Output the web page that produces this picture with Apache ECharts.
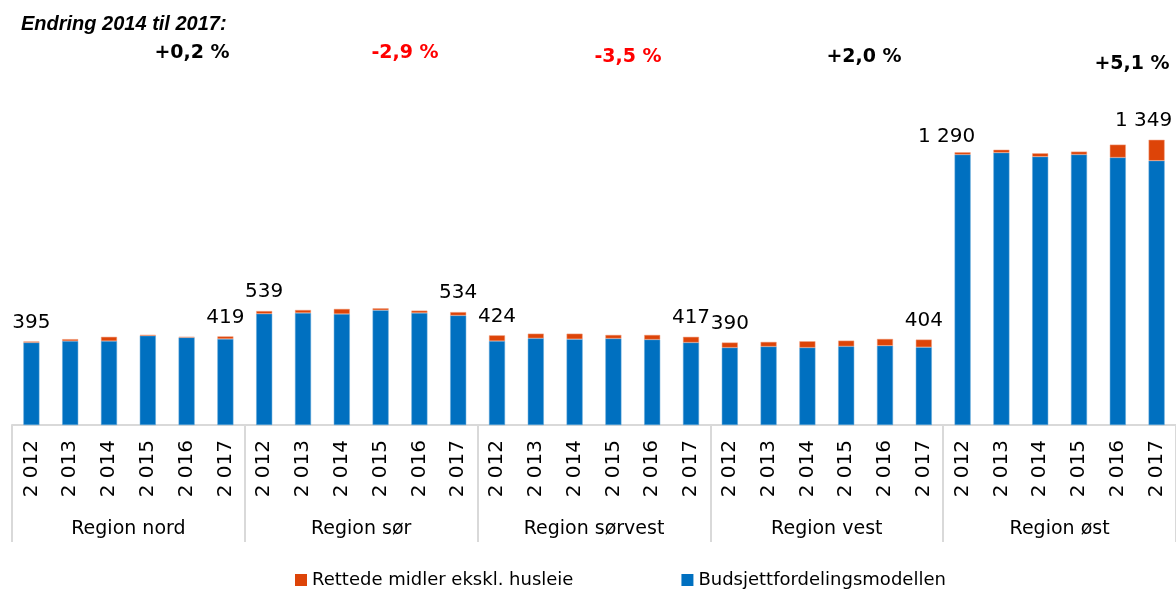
<!DOCTYPE html>
<html>
<head>
<meta charset="utf-8">
<script src="https://cdn.jsdelivr.net/npm/echarts@6/dist/echarts.min.js"></script>
<style>
  html, body { margin: 0; padding: 0; background: #fff; }
  #chart { width: 1176px; height: 590px; }
</style>
</head>
<body>
<div id="chart"></div>
<script>
var regions = ['Region nord', 'Region sør', 'Region sørvest', 'Region vest', 'Region øst'];
var years = ['2 012', '2 013', '2 014', '2 015', '2 016', '2 017'];
var endring = ['+0,2 %', '-2,9 %', '-3,5 %', '+2,0 %', '+5,1 %'];

// Budsjettfordelingsmodellen (blå), 6 år per region
var modell = [
  390, 397, 397, 422, 414, 407,
  526, 530, 525, 543, 530, 518,
  397, 410, 406, 409, 404, 390,
  366, 371, 366, 372, 375, 368,
  1279, 1288, 1269, 1279, 1265, 1250
];
// Rettede midler ekskl. husleie (oransje)
var rettede = [
  5, 9, 20, 5, 3, 12,
  13, 14, 24, 9, 11, 16,
  27, 22, 26, 17, 22, 27,
  24, 22, 30, 27, 32, 36,
  11, 14, 16, 14, 61, 99
];

var cats = [];
regions.forEach(function (r) { years.forEach(function (y) { cats.push(y); }); });

function fmt(v) {
  return String(v).replace(/\B(?=(\d{3})+(?!\d))/g, ' ');
}

var topData = rettede.map(function (v, i) {
  var item = { value: v };
  if (i % 6 === 0 || i % 6 === 5) {
    item.label = { show: true };
    if (i === 24) item.label.offset = [-16, 4];
    if (i === 29) item.label.offset = [-13, 0];
  }
  return item;
});

var chart = echarts.init(document.getElementById('chart'));

var annX = [192, 405, 628, 864, 1132];
var annY = [53, 53, 57, 57, 64];

var option = {
  animation: false,
  textStyle: { fontFamily: 'DejaVu Sans' },
  grid: { left: 12, width: 1167, top: 129, height: 296 },
  legend: {
    data: ['Rettede midler ekskl. husleie', 'Budsjettfordelingsmodellen'],
    left: 290, top: 566,
    icon: 'rect', itemWidth: 12, itemHeight: 12, itemGap: 108,
    itemStyle: { borderWidth: 0 },
    textStyle: { fontSize: 18, color: '#000', fontFamily: 'DejaVu Sans' }
  },
  xAxis: [{
    type: 'category',
    data: cats,
    axisLine: { lineStyle: { color: '#d9d9d9', width: 2 } },
    axisTick: {
      show: true,
      length: 117,
      interval: function (i) { return i % 6 === 0; },
      lineStyle: { color: '#d9d9d9', width: 2 }
    },
    axisLabel: { rotate: 90, margin: 15, fontSize: 20, color: '#000', interval: 0 }
  }, {
    type: 'category',
    data: regions,
    position: 'bottom',
    axisLine: { show: false },
    axisTick: { show: false },
    axisLabel: { margin: 95, fontSize: 19, color: '#000' }
  }],
  yAxis: { type: 'value', min: 0, max: 1400, show: false },
  series: [{
    name: 'Budsjettfordelingsmodellen',
    type: 'bar',
    stack: 'tot',
    barWidth: 16,
    itemStyle: { color: '#0070c0', borderColor: '#5fa6d8', borderWidth: 0.5 },
    data: modell
  }, {
    name: 'Rettede midler ekskl. husleie',
    type: 'bar',
    stack: 'tot',
    barWidth: 16,
    itemStyle: { color: '#dd4408', borderColor: '#f0a080', borderWidth: 0.5 },
    label: {
      show: false,
      position: 'top',
      distance: 9,
      fontSize: 20,
      color: '#000',
      formatter: function (p) {
        return fmt(modell[p.dataIndex] + rettede[p.dataIndex]);
      }
    },
    data: topData
  }],
  graphic: [{
    type: 'text',
    left: 21, top: 14,
    style: {
      text: 'Endring 2014 til 2017:',
      font: 'italic bold 20px "Liberation Sans"',
      fill: '#000'
    }
  }].concat(endring.map(function (t, i) {
    return {
      type: 'text',
      x: annX[i], y: annY[i],
      style: {
        text: t,
        font: 'bold 19px "DejaVu Sans"',
        fill: t.charAt(0) === '-' ? '#ff0000' : '#000',
        align: 'center',
        verticalAlign: 'middle'
      }
    };
  }))
};

chart.setOption(option);
</script>
</body>
</html>
